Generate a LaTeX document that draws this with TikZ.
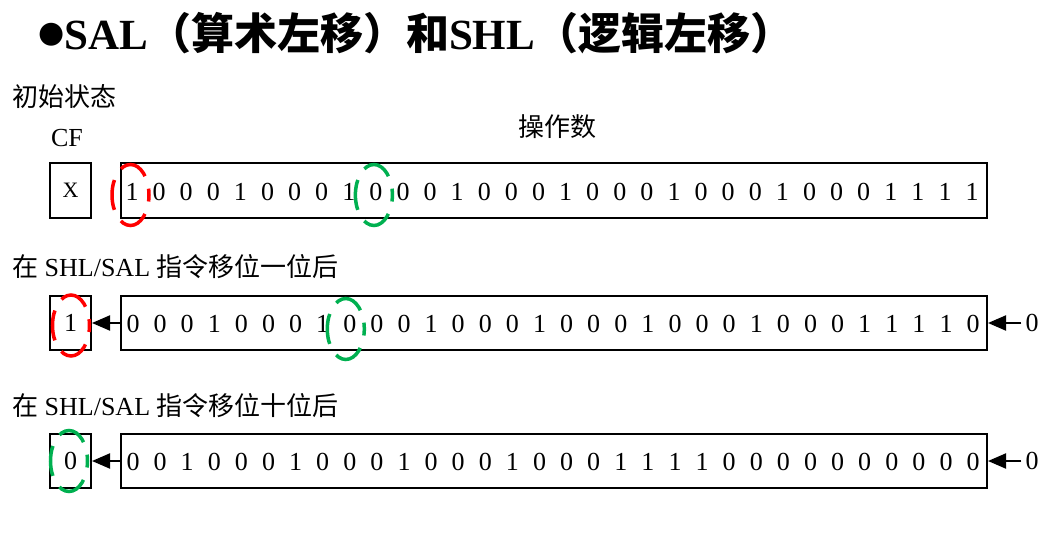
\documentclass[tikz,border=0pt]{standalone}
\usepackage{fontspec}
\setmainfont{Liberation Serif}
\newfontfamily\cjk{Noto Sans CJK SC}
\newfontfamily\symf{DejaVu Sans}
\usetikzlibrary{arrows.meta}
\definecolor{ringred}{RGB}{255,0,0}
\definecolor{ringgreen}{RGB}{0,176,80}
\begin{document}
\begin{tikzpicture}[x=1pt,y=-1pt,
  regbox/.style={draw, line width=2pt, inner sep=0pt, rectangle},
  bit/.style={font=\fontsize{26}{26}\selectfont, inner sep=0pt},
  lab/.style={font=\fontsize{26}{28}\selectfont, anchor=west, inner sep=0pt},
  ring/.style={line width=3.5pt, dash pattern=on 30.4pt off 13pt, dash phase=23.9pt},
  arr/.style={-{Triangle[length=18pt,width=15pt]}, line width=2pt}]
\useasboundingbox (0,0) rectangle (1054,540);

% title
\node[anchor=west, inner sep=0pt, font=\fontsize{43}{46}\selectfont\bfseries] (title) at (38,33)
  {\raisebox{7pt}{\fontsize{30}{30}\selectfont\symf ●}SAL{\cjk （算术左移）和}SHL{\cjk （逻辑左移）}};

% labels
\node[lab] (init) at (12,97) {\cjk 初始状态};
\node[inner sep=0pt, font=\fontsize{26}{28}\selectfont] (cflab) at (67,138) {CF};
\node[inner sep=0pt, font=\fontsize{26}{28}\selectfont\cjk] (oplab) at (557,127) {操作数};
\node[lab] (lab2) at (12,267) {{\cjk 在} SHL/SAL {\cjk 指令移位一位后}};
\node[lab] (lab3) at (12,406) {{\cjk 在} SHL/SAL {\cjk 指令移位十位后}};

% row 1
\node[regbox, minimum width=41pt, minimum height=55pt, font=\fontsize{22}{22}\selectfont] (cf1) at (70.5,190.5) {X};
\node[regbox, minimum width=866pt, minimum height=55pt] (op1) at (554,190.5) {};
\foreach \b [count=\i from 0] in {1,0,0,0,1,0,0,0,1,0,0,0,1,0,0,0,1,0,0,0,1,0,0,0,1,0,0,0,1,1,1,1}
  \node[bit] (ra\i) at (132+27.1*\i,192) {\b};

% row 2
\node[regbox, minimum width=41pt, minimum height=54pt] (cf2) at (70.5,323) {};
\node[bit] (cfb2) at (cf2.center) {1};
\node[regbox, minimum width=866pt, minimum height=54pt] (op2) at (554,323) {};
\foreach \b [count=\i from 0] in {0,0,0,1,0,0,0,1,0,0,0,1,0,0,0,1,0,0,0,1,0,0,0,1,0,0,0,1,1,1,1,0}
  \node[bit] (rb\i) at (133+27.1*\i,324) {\b};
\draw[arr] (op2.west) -- (cf2.east);
\node[bit, anchor=center] (in2) at (1032,323) {0};
\draw[arr] ([xshift=-4pt]in2.west) -- (op2.east);

% row 3
\node[regbox, minimum width=41pt, minimum height=54pt] (cf3) at (70.5,461) {};
\node[bit] (cfb3) at (cf3.center) {0};
\node[regbox, minimum width=866pt, minimum height=54pt] (op3) at (554,461) {};
\foreach \b [count=\i from 0] in {0,0,1,0,0,0,1,0,0,0,1,0,0,0,1,0,0,0,1,1,1,1,0,0,0,0,0,0,0,0,0,0}
  \node[bit] (rc\i) at (133+27.1*\i,462) {\b};
\draw[arr] (op3.west) -- (cf3.east);
\node[bit, anchor=center] (in3) at (1032,461) {0};
\draw[arr] ([xshift=-4pt]in3.west) -- (op3.east);

% dashed rings
\draw[ring, ringred] ([xshift=-1.5pt,yshift=-3pt]ra0.center) ellipse [x radius=18.5, y radius=30.5];
\draw[ring, ringgreen] ([xshift=-2pt,yshift=-3pt]ra9.center) ellipse [x radius=18.5, y radius=30.5];
\draw[ring, ringred] ([xshift=0.5pt,yshift=-2.5pt]cfb2.center) ellipse [x radius=18.5, y radius=30.5];
\draw[ring, ringgreen] ([xshift=-4pt,yshift=-5pt]rb8.center) ellipse [x radius=18.5, y radius=30.5];
\draw[ring, ringgreen] ([xshift=-1.5pt]cfb3.center) ellipse [x radius=18.5, y radius=30.5];
\end{tikzpicture}
\end{document}
